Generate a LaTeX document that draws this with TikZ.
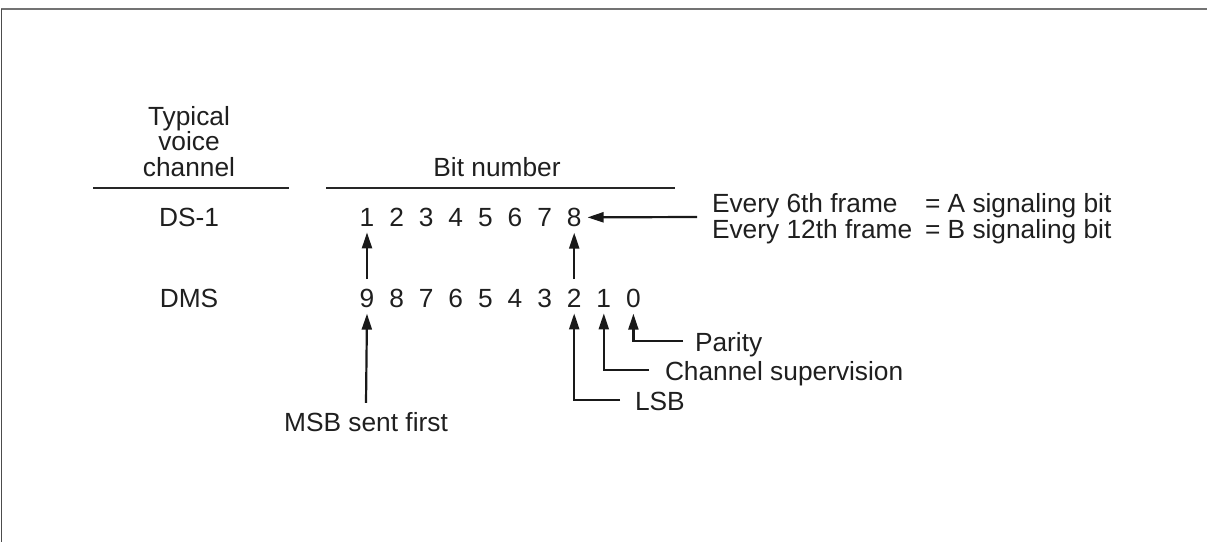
\documentclass[tikz,border=0pt]{standalone}
\usepackage{fontspec}
\setmainfont{Liberation Sans}
\usetikzlibrary{arrows.meta}
\begin{document}
\begin{tikzpicture}[x=1pt,y=-1pt,
  lbl/.style={inner sep=0pt, outer sep=0pt, font=\fontsize{26.3}{30}\selectfont, text=black!88},
  dig/.style={lbl, anchor=base, outer sep=6pt},
  rulestyle/.style={line width=2.2pt, black!85},
  arr/.style={line width=2.2pt, black!90, -{Triangle[length=16pt,width=10pt]}},
]
\useasboundingbox (0,0) rectangle (1207,542);
% frame
\draw[line width=2pt, black!55] (1,9) -- (1207,9);
\draw[line width=1pt, black!70] (1.5,9) -- (1.5,542);
% headings
\node[lbl, anchor=base] (typ) at (189,125) {Typical};
\node[lbl, anchor=base] (voi) at (189,150) {voice};
\node[lbl, anchor=base] (chn) at (189,176) {channel};
\node[lbl, anchor=base] (bitn) at (497,176) {Bit number};
\draw[rulestyle] (93,188) -- (289,188);
\draw[rulestyle] (326,188) -- (675,188);
% row labels
\node[lbl, anchor=base] (ds1) at (189,226.4) {DS-1};
\node[lbl, anchor=base] (dms) at (189,307.4) {DMS};
% digits
\foreach \d [count=\k from 0] in {1,2,3,4,5,6,7,8}
  \node[dig] (d\d) at (367+29.6*\k,226.4) {\d};
\foreach \d [count=\k from 0] in {9,8,7,6,5,4,3,2,1,0}
  \node[dig] (m\d) at (367+29.6*\k,307.4) {\d};
% vertical arrows DMS -> DS-1
\draw[arr, shorten <=4pt] (m9.north) -- (d1.south);
\draw[arr, shorten <=4pt] (m2.north) -- (d8.south);
% signaling labels
\node[lbl, anchor=base west] (ev6) at (712,212.5) {Every 6th frame};
\node[lbl, anchor=base west] (ev12) at (712,238.5) {Every 12th frame};
\node[lbl, anchor=base west] (sa) at (925,212.5) {= A signaling bit};
\node[lbl, anchor=base west] (sb) at (925,238.5) {= B signaling bit};
\coordinate (evtail) at (697,217);
\draw[arr] (evtail) -- (d8.east);
% bottom labels
\node[lbl, anchor=base west] (par) at (695,351) {Parity};
\node[lbl, anchor=base west] (chs) at (665,380) {Channel supervision};
\node[lbl, anchor=base west] (lsb) at (635,410) {LSB};
\node[lbl, anchor=base] (msb) at (366,431) {MSB sent first};
\draw[arr] ([shift={(-12pt,10pt)}]par.base west) -| (m0.south);
\draw[arr] ([shift={(-16pt,10pt)}]chs.base west) -| (m1.south);
\draw[arr] ([shift={(-15pt,10pt)}]lsb.base west) -| (m2.south);
\draw[arr] ([yshift=9pt]msb.north) -- (m9.south);
\end{tikzpicture}
\end{document}
